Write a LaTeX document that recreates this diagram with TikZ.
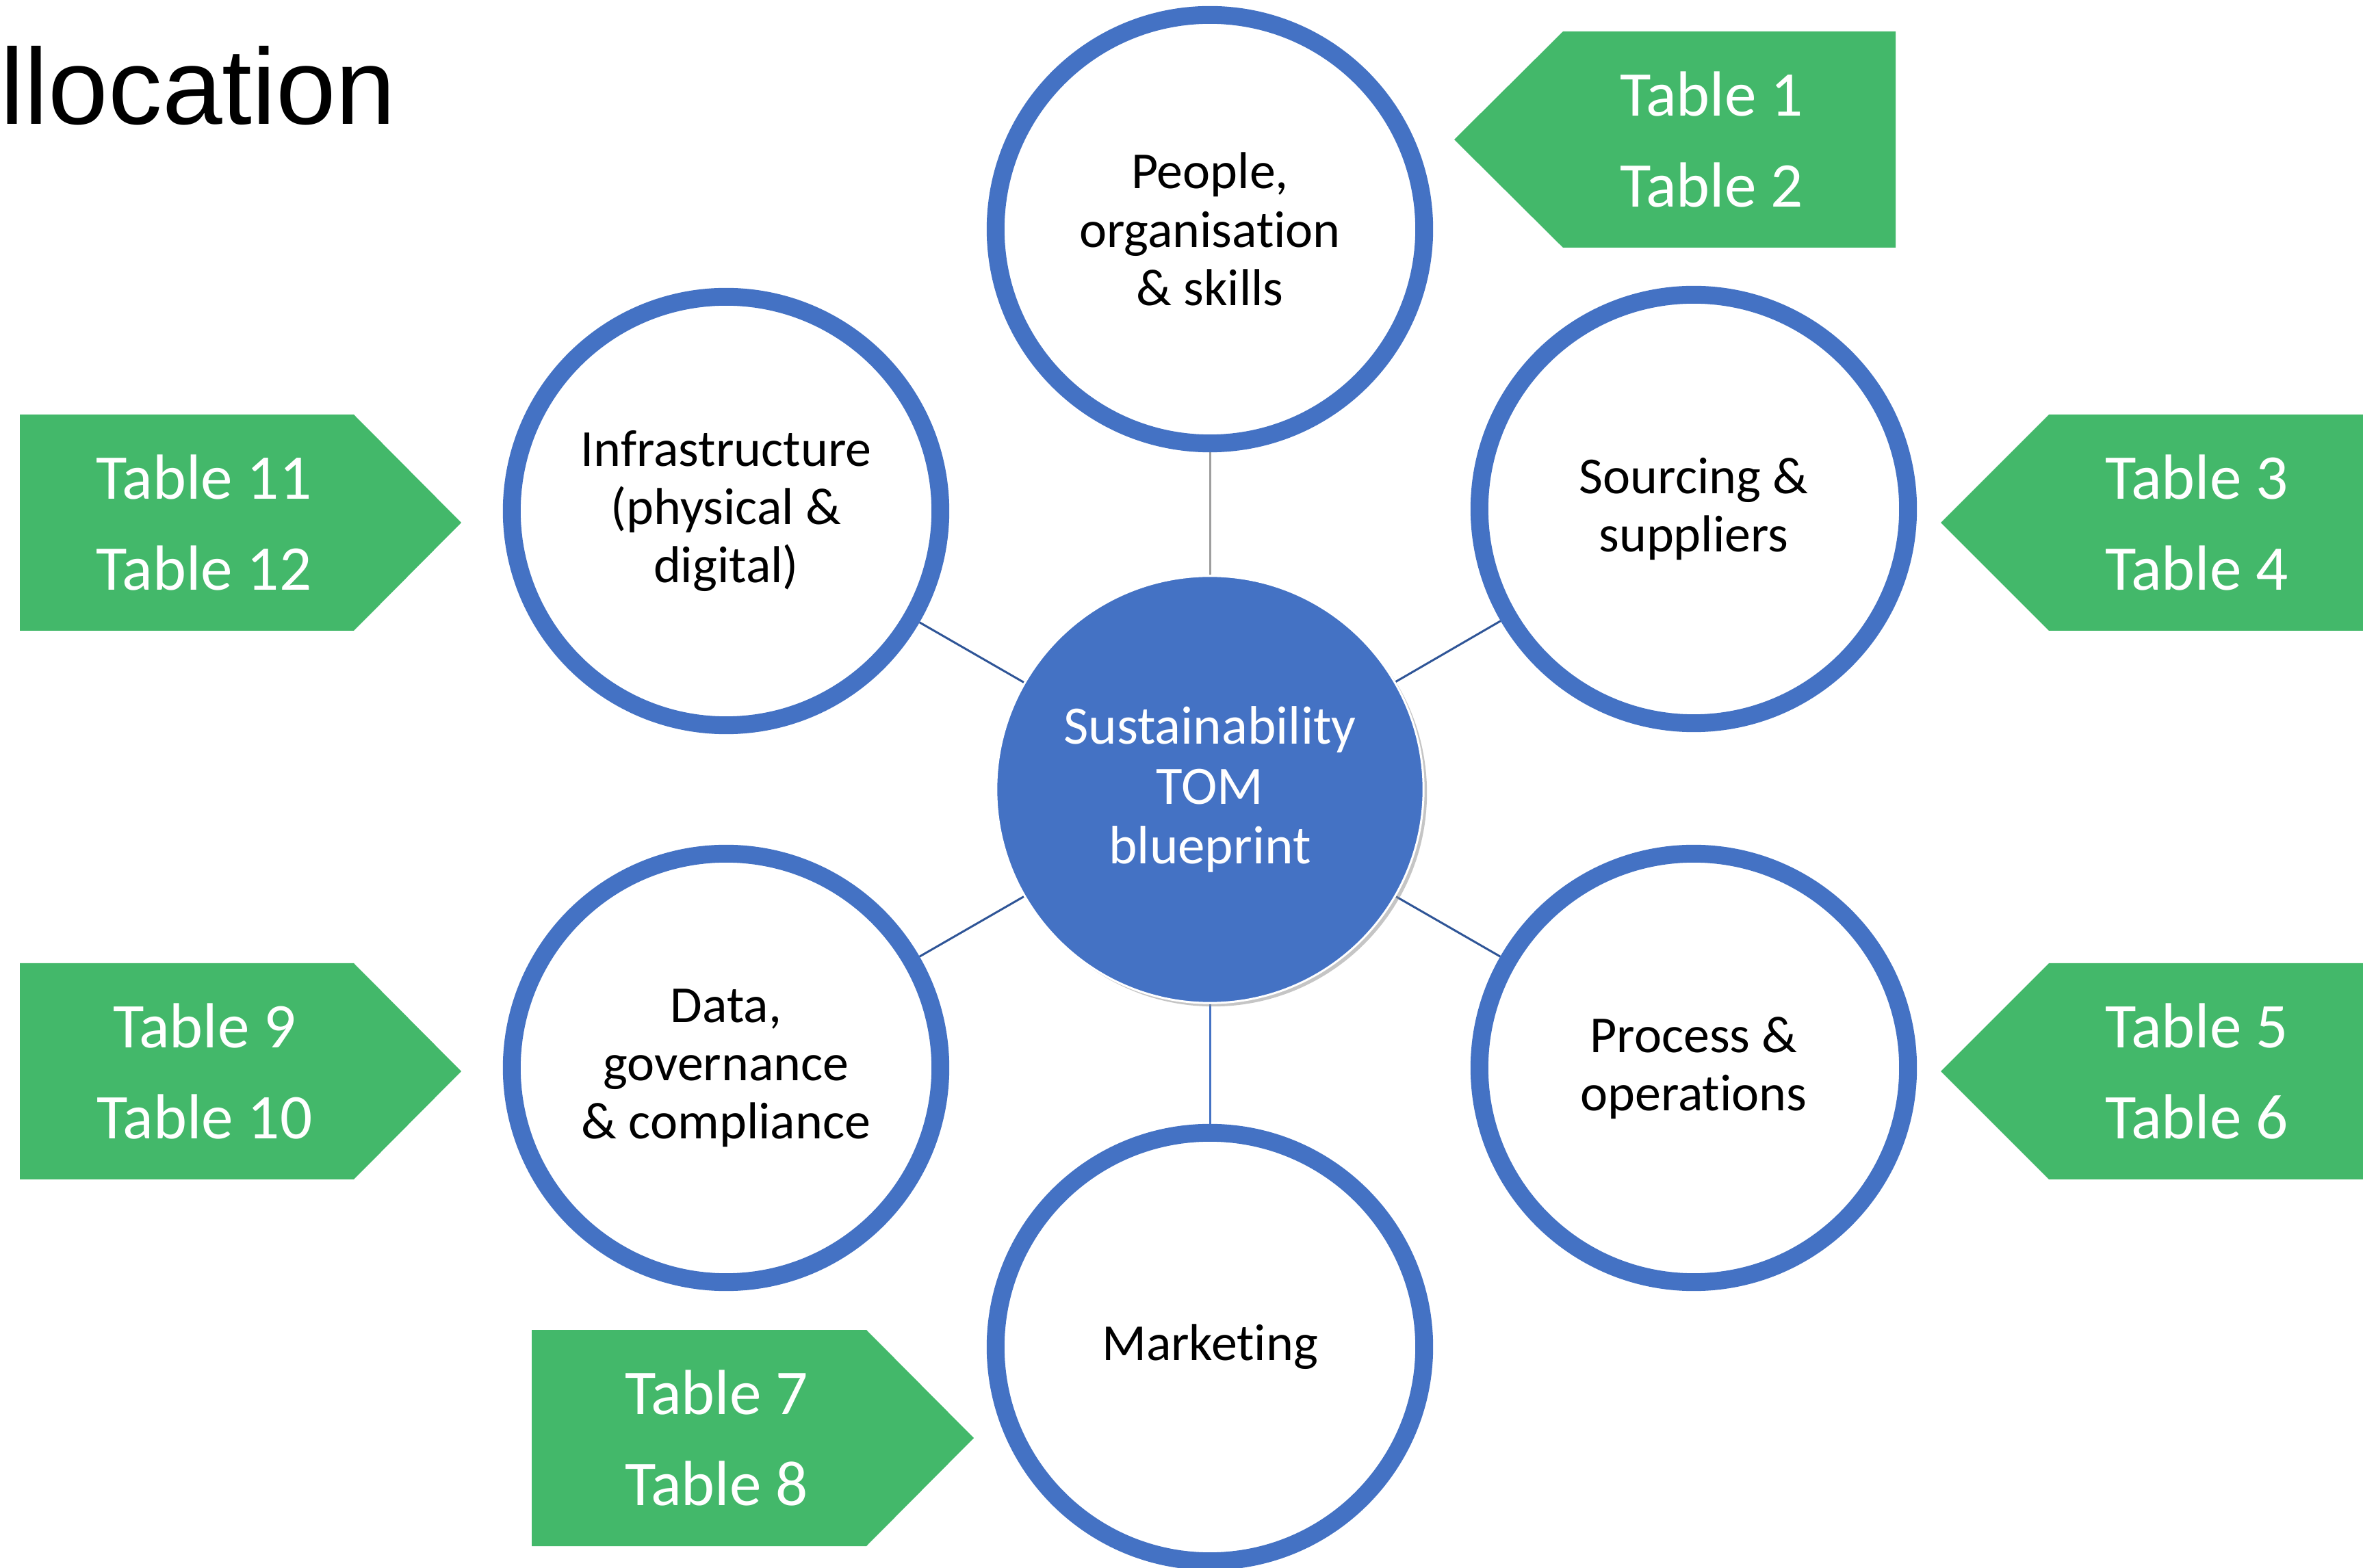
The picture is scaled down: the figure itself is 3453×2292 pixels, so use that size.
\documentclass[tikz,border=0pt]{standalone}
\usepackage{fontspec}
\setmainfont{Carlito}[Ligatures={NoCommon,NoContextual}]
\newfontfamily\titlefont{Liberation Sans}
\usetikzlibrary{shadows,backgrounds}
\definecolor{ringblue}{HTML}{4472C4}
\definecolor{tabgreen}{RGB}{67,184,106}
\definecolor{linkdark}{RGB}{47,85,151}
\definecolor{linkgrey}{RGB}{158,158,158}
\begin{document}
\begin{tikzpicture}[x=0.01cm,y=-0.01cm,
  ring/.style={circle, draw=ringblue, line width=0.26cm, fill=white, minimum size=6.26cm, inner sep=0pt, align=center, font=\fontsize{21.6}{24.2}\selectfont},
  hub/.style={circle, fill=ringblue, draw=white, line width=0.03cm, minimum size=6.24cm, inner sep=0pt, align=center, text=white, font=\fontsize{22.5}{24.8}\selectfont, drop shadow={shadow xshift=0.05cm, shadow yshift=-0.05cm, fill=black!45}},
  tag/.style={fill=tabgreen},
  tagtext/.style={text=white, align=center, inner sep=0pt, font=\fontsize{26.5}{37.6}\selectfont},
  link/.style={line width=0.03cm}]
\useasboundingbox (0,0) rectangle (3453,2292);

% title
\node[anchor=base west, inner sep=0pt, font=\titlefont\fontsize{44.8}{50}\selectfont] (title) at (0,182) {llocation};

% green tags
\fill[tag] (2125,204) -- (2284,46) -- (2770,46) -- (2770,362) -- (2284,362) -- cycle;
\node[tagtext] (t12) at (2501,204) {Table 1\\Table 2};
\fill[tag] (2836,764) -- (2994,606) -- (3470,606) -- (3470,922) -- (2994,922) -- cycle;
\node[tagtext] (t34) at (3210,764) {Table 3\\Table 4};
\fill[tag] (2836,1566) -- (2994,1408) -- (3470,1408) -- (3470,1724) -- (2994,1724) -- cycle;
\node[tagtext] (t56) at (3210,1566) {Table 5\\Table 6};
\fill[tag] (777,1944) -- (1266,1944) -- (1423,2102) -- (1266,2260) -- (777,2260) -- cycle;
\node[tagtext] (t78) at (1047,2102) {Table 7\\Table 8};
\fill[tag] (29,1408) -- (517,1408) -- (674,1566) -- (517,1724) -- (29,1724) -- cycle;
\node[tagtext] (t910) at (299,1566) {Table 9\\Table 10};
\fill[tag] (29,606) -- (517,606) -- (674,764) -- (517,922) -- (29,922) -- cycle;
\node[tagtext] (t1112) at (298,764) {Table 11\\Table 12};

% circles
\node[hub] (hub) at (1768,1154) {Sustainability\\TOM\\blueprint};
\node[ring] (people) at (1768,335) {People,\\organisation\\\& skills};
\node[ring] (infra) at (1061,747) {Infrastructure\\(physical \&\\digital)};
\node[ring] (sourcing) at (2475,744) {Sourcing \&\\suppliers};
\node[ring] (data) at (1061,1561) {Data,\\governance\\\& compliance};
\node[ring] (process) at (2475,1561) {Process \&\\operations};
\node[ring] (marketing) at (1768,1969) {Marketing};

% connectors
\begin{pgfonlayer}{background}
\draw[link, linkgrey] (hub) -- (people);
\draw[link, ringblue] (hub) -- (marketing);
\draw[link, linkdark] (hub) -- (infra);
\draw[link, linkdark] (hub) -- (sourcing);
\draw[link, linkdark] (hub) -- (data);
\draw[link, linkdark] (hub) -- (process);
\end{pgfonlayer}
\end{tikzpicture}
\end{document}
